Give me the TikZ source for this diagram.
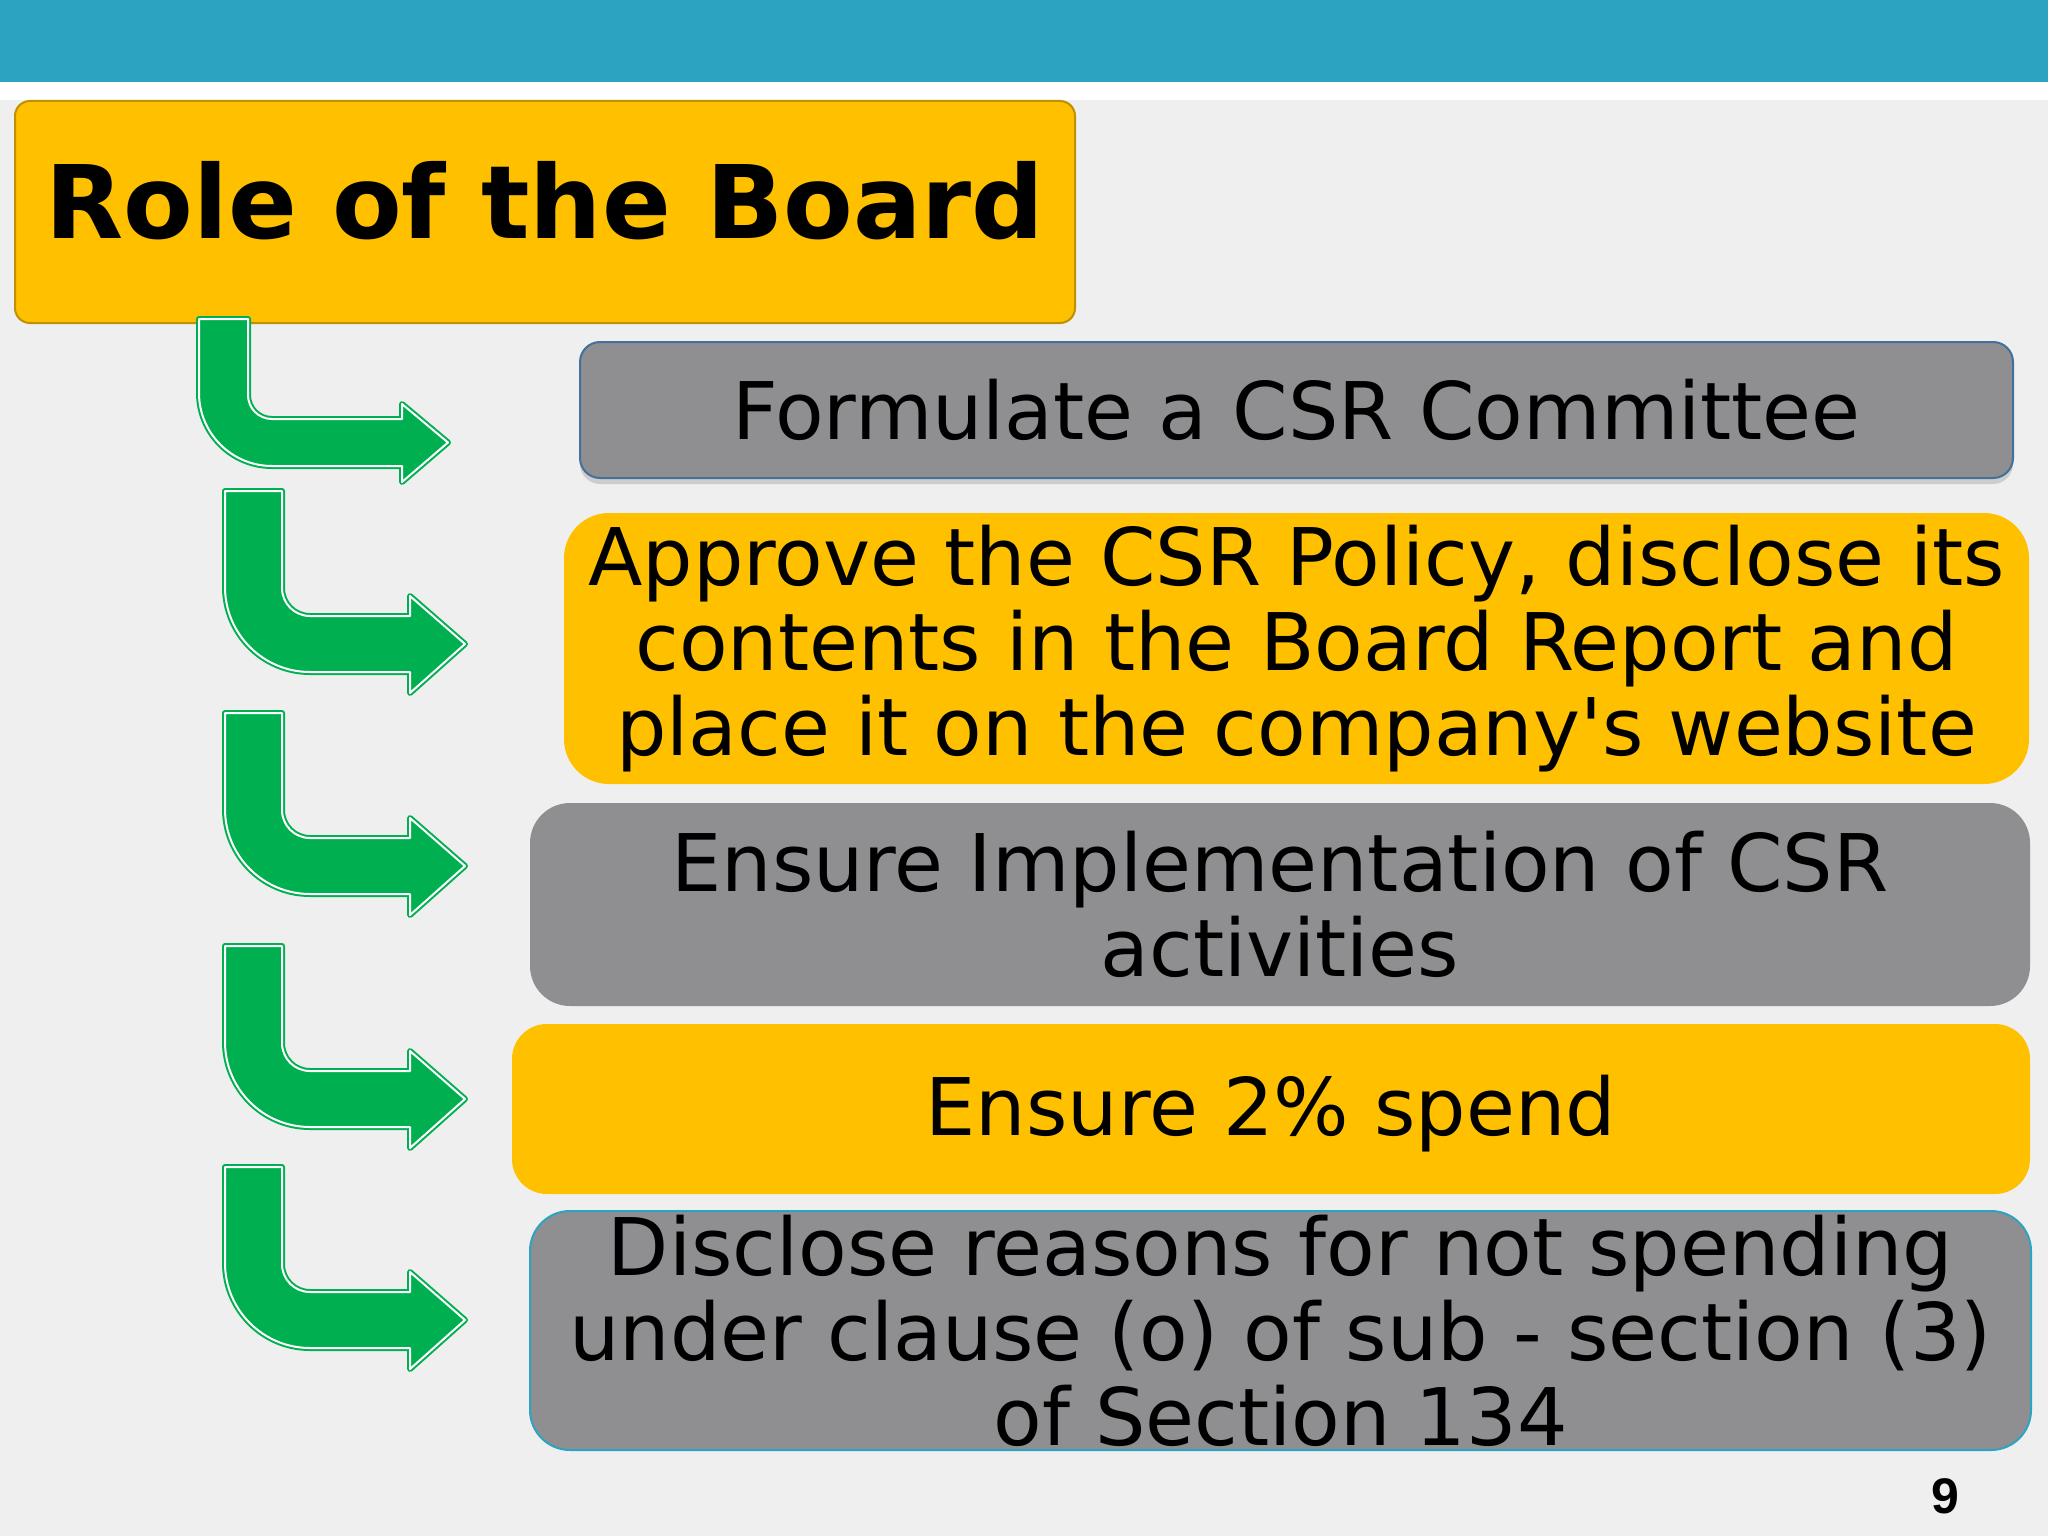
\documentclass[tikz,border=0pt]{standalone}
\usepackage{fontspec}
\setmainfont{DejaVu Sans}
\newfontfamily\numfont{Liberation Sans}
\usetikzlibrary{shadows}
\definecolor{bgcol}{HTML}{EFEFEF}
\definecolor{barcol}{HTML}{2CA4C1}
\definecolor{goldcol}{HTML}{FFC000}
\definecolor{golddark}{HTML}{C09000}
\definecolor{greycol}{HTML}{8F8E91}
\definecolor{bluecol}{HTML}{41719C}
\definecolor{greencol}{HTML}{00B050}
\begin{document}
\begin{tikzpicture}[x=1pt,y=-1pt,
  boxbase/.style={rectangle, inner sep=0pt, align=center,
    font=\fontsize{79.5}{85}\selectfont},
  goldbox/.style={boxbase, fill=goldcol},
  greybox/.style={boxbase, fill=greycol},
  arrowbody/.style={fill=greencol, draw=greencol, line width=6pt, line join=round,
    postaction={draw=white, line width=2pt, line join=round}}]
\useasboundingbox (0,0) rectangle (2048,1536);
\fill[bgcol] (0,0) rectangle (2048,1536);
\fill[white] (0,82) rectangle (2048,100);
\fill[barcol] (0,0) rectangle (2048,82);

% title
\node[rectangle, fill=goldcol, draw=golddark, line width=2pt, rounded corners=15pt,
  minimum width=1060pt, minimum height=222pt, inner sep=0pt,
  font=\bfseries\fontsize{101.5}{110}\selectfont, text height=78pt, text depth=25pt]
  (title) at (545,212) {Role of the Board};

% boxes
\node[greybox, draw=bluecol, line width=2pt, rounded corners=20pt,
  minimum width=1433pt, minimum height=136pt,
  drop shadow={shadow xshift=0pt, shadow yshift=-6pt, opacity=.3}]
  (b1) at (1296.5,410) {Formulate a CSR Committee};
\node[goldbox, rounded corners=45pt, minimum width=1465pt, minimum height=271pt]
  (b2) at (1296.5,648.5) {Approve the CSR Policy, disclose its\\contents in the Board Report and\\place it on the company\textquotesingle s website};
\node[greybox, rounded corners=40pt, minimum width=1500pt, minimum height=203pt]
  (b3) at (1280,904.5) {Ensure Implementation of CSR\\activities};
\node[goldbox, rounded corners=35pt, minimum width=1518pt, minimum height=170pt,
  text height=62pt, text depth=10pt]
  (b4) at (1271,1109) {Ensure 2\% spend};
\node[greybox, draw=barcol, line width=2pt, rounded corners=40pt,
  minimum width=1501pt, minimum height=239pt]
  (b5) at (1280.5,1330.5) {Disclose reasons for not spending\\under clause (o) of sub - section (3)\\of Section 134};

% arrows
\path[arrowbody] (199,319) -- (248,319) -- (248,395)
  .. controls (248,408.3) and (258.7,419) .. (272,419) -- (402,419) -- (402,404)
  -- (448,442.5) -- (402,482) -- (402,466) -- (272,466)
  .. controls (231.7,466) and (199,433.3) .. (199,393) -- cycle;
\foreach \T in {491,713,946,1167}{
  \path[arrowbody] (225,\T) -- (282,\T) -- (282,{\T+97})
    .. controls (282,{\T+112.5}) and (294.5,{\T+125}) .. (310,{\T+125})
    -- (410,{\T+125}) -- (410,{\T+105}) -- (465,{\T+153}) -- (410,{\T+202})
    -- (410,{\T+181}) -- (310,{\T+181})
    .. controls (263.1,{\T+181}) and (225,{\T+142.9}) .. (225,{\T+96}) -- cycle;
}

% page number
\node[font=\numfont\bfseries\fontsize{50}{60}\selectfont, anchor=base, inner sep=0pt]
  (pnum) at (1945,1513) {9};
\end{tikzpicture}
\end{document}
